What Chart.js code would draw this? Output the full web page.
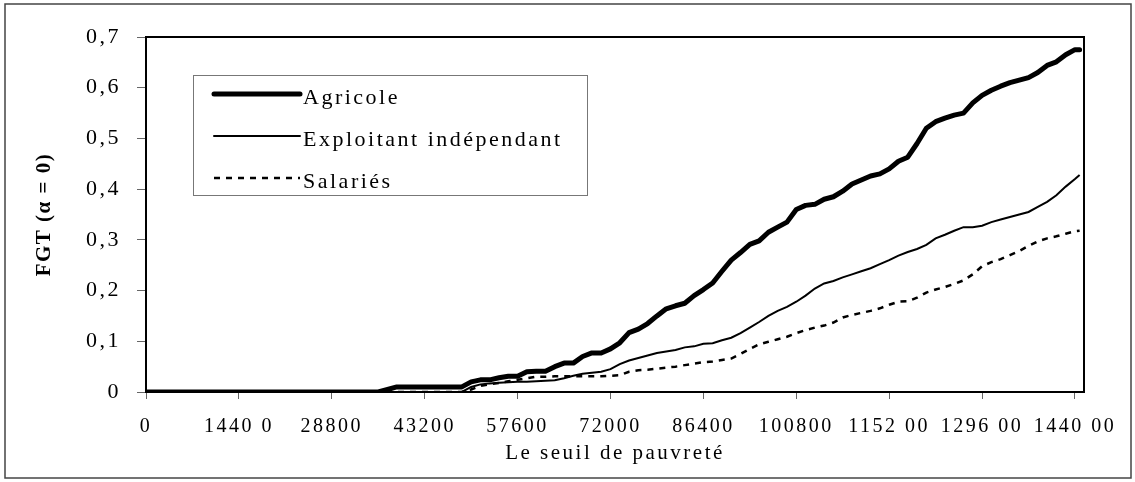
<!DOCTYPE html>
<html>
<head>
<meta charset="utf-8">
<script src="https://cdn.jsdelivr.net/npm/chart.js@4.4.1/dist/chart.umd.min.js"></script>
<style>
  html, body { margin: 0; padding: 0; background: #fff; }
  canvas { display: block; }
</style>
</head>
<body>
<canvas id="fgt" width="1135" height="482"></canvas>
<script>
// seuils de pauvreté (x)
const seuils = [
  0, 1440, 2880, 4320, 5760, 7200, 8640, 10080, 11520, 12960,
  14400, 15840, 17280, 18720, 20160, 21600, 23040, 24480, 25920, 27360,
  28800, 30240, 31680, 33120, 34560, 36000, 37440, 38880, 40320, 41760,
  43200, 44640, 46080, 47520, 48960, 50400, 51840, 53280, 54720, 56160,
  57600, 59040, 60480, 61920, 63360, 64800, 66240, 67680, 69120, 70560,
  72000, 73440, 74880, 76320, 77760, 79200, 80640, 82080, 83520, 84960,
  86400, 87840, 89280, 90720, 92160, 93600, 95040, 96480, 97920, 99360,
  100800, 102240, 103680, 105120, 106560, 108000, 109440, 110880, 112320, 113760,
  115200, 116640, 118080, 119520, 120960, 122400, 123840, 125280, 126720, 128160,
  129600, 131040, 132480, 133920, 135360, 136800, 138240, 139680, 141120, 142560,
  144000, 144720
];

const agricole = [
  0, 0, 0, 0, 0, 0, 0, 0, 0, 0,
  0, 0, 0, 0, 0, 0, 0, 0, 0, 0,
  0, 0, 0, 0, 0, 0, 0.005, 0.01, 0.01, 0.01,
  0.01, 0.01, 0.01, 0.01, 0.01, 0.02, 0.024, 0.024, 0.028, 0.031,
  0.031, 0.04, 0.041, 0.041, 0.05, 0.057, 0.057, 0.07, 0.077, 0.077,
  0.085, 0.097, 0.117, 0.124, 0.135, 0.15, 0.164, 0.17, 0.175, 0.19,
  0.202, 0.215, 0.238, 0.26, 0.275, 0.291, 0.298, 0.315, 0.325, 0.335,
  0.36, 0.368, 0.37, 0.38, 0.385, 0.396, 0.41, 0.418, 0.426, 0.43,
  0.44, 0.455, 0.463, 0.49, 0.52, 0.533, 0.54, 0.546, 0.55, 0.57,
  0.585, 0.595, 0.603, 0.61, 0.615, 0.62, 0.63, 0.644, 0.651, 0.665,
  0.675, 0.675
];

const exploitant = [
  0, 0, 0, 0, 0, 0, 0, 0, 0, 0,
  0, 0, 0, 0, 0, 0, 0, 0, 0, 0,
  0, 0, 0, 0, 0, 0, 0, 0, 0, 0,
  0, 0, 0, 0, 0, 0.01, 0.015, 0.017, 0.018, 0.019,
  0.02, 0.02, 0.021, 0.022, 0.023, 0.027, 0.032, 0.036, 0.038, 0.04,
  0.045, 0.055, 0.062, 0.067, 0.072, 0.077, 0.08, 0.083, 0.088, 0.09,
  0.095, 0.096, 0.102, 0.107, 0.116, 0.127, 0.138, 0.15, 0.16, 0.168,
  0.178, 0.19, 0.204, 0.214, 0.219, 0.226, 0.232, 0.238, 0.244, 0.252,
  0.26, 0.269, 0.276, 0.282, 0.29, 0.303, 0.31, 0.318, 0.325, 0.325,
  0.328, 0.335, 0.34, 0.345, 0.35, 0.355, 0.365, 0.375, 0.388, 0.405,
  0.42, 0.428
];

const salaries = [
  0, 0, 0, 0, 0, 0, 0, 0, 0, 0,
  0, 0, 0, 0, 0, 0, 0, 0, 0, 0,
  0, 0, 0, 0, 0, 0, 0, 0, 0, 0,
  0, 0, 0, 0, 0, 0.005, 0.012, 0.015, 0.018, 0.021,
  0.024, 0.027, 0.03, 0.03, 0.031, 0.031, 0.031, 0.031, 0.031, 0.031,
  0.032, 0.033, 0.04, 0.043, 0.044, 0.046, 0.048, 0.05, 0.053, 0.056,
  0.059, 0.06, 0.063, 0.066, 0.075, 0.085, 0.094, 0.099, 0.104, 0.109,
  0.116, 0.122, 0.127, 0.131, 0.137, 0.147, 0.152, 0.156, 0.16, 0.165,
  0.172, 0.178, 0.179, 0.186, 0.196, 0.202, 0.207, 0.213, 0.22, 0.232,
  0.248, 0.256, 0.262, 0.27, 0.278, 0.288, 0.297, 0.303, 0.307, 0.312,
  0.317, 0.318
];

const seriesLabels = ["Agricole", "Exploitant indépendant", "Salariés"];

const xTickValues = [0, 14400, 28800, 43200, 57600, 72000, 86400, 100800, 115200, 129600, 144000];
const xTickLabels = ["0", "1440 0", "28800", "43200", "57600", "72000", "86400", "100800", "1152 00", "1296 00", "1440 00"];
const yTickValues = [0, 0.1, 0.2, 0.3, 0.4, 0.5, 0.6, 0.7];
const yTickLabels = ["0", "0,1", "0,2", "0,3", "0,4", "0,5", "0,6", "0,7"];

const xTitle = "Le seuil de pauvreté";
const yTitle = "FGT (α = 0)";

const FONT = "'Liberation Serif', 'Times New Roman', serif";
Chart.defaults.font.family = FONT;
Chart.defaults.color = "#000";

const toPoints = (values) => seuils.map((s, i) => ({ x: s, y: values[i] }));

// cadre, légende et titres façon Excel
const decor = {
  id: "decor",
  beforeDraw(chart) {
    chart.ctx.letterSpacing = "2.5px";
  },
  afterDatasetsDraw(chart) {
    const { ctx, chartArea: a } = chart;
    ctx.save();
    ctx.strokeStyle = "#000";
    ctx.lineWidth = 2;
    ctx.strokeRect(a.left, a.top, a.right - a.left, a.bottom - a.top);
    ctx.restore();
  },
  afterDraw(chart) {
    const { ctx, chartArea: a } = chart;
    ctx.save();

    // légende
    const bx = 193, by = 75, bw = 394, bh = 120;
    ctx.fillStyle = "#fff";
    ctx.fillRect(bx, by, bw, bh);
    ctx.strokeStyle = "#777";
    ctx.lineWidth = 1;
    ctx.strokeRect(bx + 0.5, by + 0.5, bw, bh);
    const rows = [94, 136, 178];
    chart.data.datasets.forEach((ds, i) => {
      const y = rows[i];
      ctx.save();
      ctx.strokeStyle = ds.borderColor;
      ctx.lineWidth = ds.borderWidth;
      ctx.lineCap = ds.borderDash ? "butt" : "round";
      ctx.setLineDash(ds.borderDash || []);
      ctx.beginPath();
      ctx.moveTo(214, y);
      ctx.lineTo(300, y);
      ctx.stroke();
      ctx.restore();
      ctx.letterSpacing = "2.5px";
      ctx.fillStyle = "#000";
      ctx.font = "22px " + FONT;
      ctx.textAlign = "left";
      ctx.textBaseline = "alphabetic";
      ctx.fillText(ds.label, 303, y + 10);
    });

    // titre de l'axe x
    ctx.letterSpacing = "2.5px";
    ctx.font = "21px " + FONT;
    ctx.textAlign = "center";
    ctx.textBaseline = "middle";
    ctx.fillText(xTitle, (a.left + a.right) / 2, 453);

    // titre de l'axe y
    ctx.save();
    ctx.translate(45, (a.top + a.bottom) / 2);
    ctx.rotate(-Math.PI / 2);
    ctx.letterSpacing = "1.5px";
    ctx.font = "bold 21px " + FONT;
    ctx.fillText(yTitle, 0, 0);
    ctx.restore();

    // bordure extérieure
    ctx.strokeStyle = "#444";
    ctx.lineWidth = 1.5;
    ctx.strokeRect(5, 4, 1126, 474);
    ctx.restore();
  }
};

new Chart(document.getElementById("fgt"), {
  type: "line",
  data: {
    datasets: [
      {
        label: seriesLabels[0],
        data: toPoints(agricole),
        borderColor: "#000",
        borderWidth: 5,
        borderJoinStyle: "round",
        borderCapStyle: "round",
        pointRadius: 0,
        tension: 0,
      },
      {
        label: seriesLabels[1],
        data: toPoints(exploitant),
        borderColor: "#000",
        borderWidth: 2,
        pointRadius: 0,
        tension: 0,
      },
      {
        label: seriesLabels[2],
        data: toPoints(salaries),
        borderColor: "#000",
        borderWidth: 2.5,
        borderDash: [6, 6],
        pointRadius: 0,
        tension: 0,
      },
    ],
  },
  options: {
    responsive: false,
    devicePixelRatio: 1,
    animation: false,
    layout: { padding: { top: 37, right: 51, left: 0, bottom: 0 } },
    plugins: {
      legend: { display: false },
      tooltip: { enabled: false },
    },
    scales: {
      x: {
        type: "linear",
        min: 0,
        max: 145400,
        border: { display: false },
        grid: { drawOnChartArea: false, drawTicks: true, tickLength: 7, color: "#666" },
        afterBuildTicks: (s) => { s.ticks = xTickValues.map((v) => ({ value: v })); },
        afterFit: (s) => { s.height = 90; },
        ticks: {
          autoSkip: false,
          maxRotation: 0,
          padding: 16,
          font: { size: 20 },
          callback: (v, i) => xTickLabels[i],
        },
      },
      y: {
        min: 0,
        max: 0.7,
        border: { display: false },
        grid: { drawOnChartArea: false, drawTicks: true, tickLength: 9, color: "#666" },
        afterBuildTicks: (s) => { s.ticks = yTickValues.map((v) => ({ value: v })); },
        afterFit: (s) => { s.width = 146; },
        ticks: {
          padding: 16,
          font: { size: 22 },
          callback: (v, i) => yTickLabels[i],
        },
      },
    },
  },
  plugins: [decor],
});
</script>
</body>
</html>
